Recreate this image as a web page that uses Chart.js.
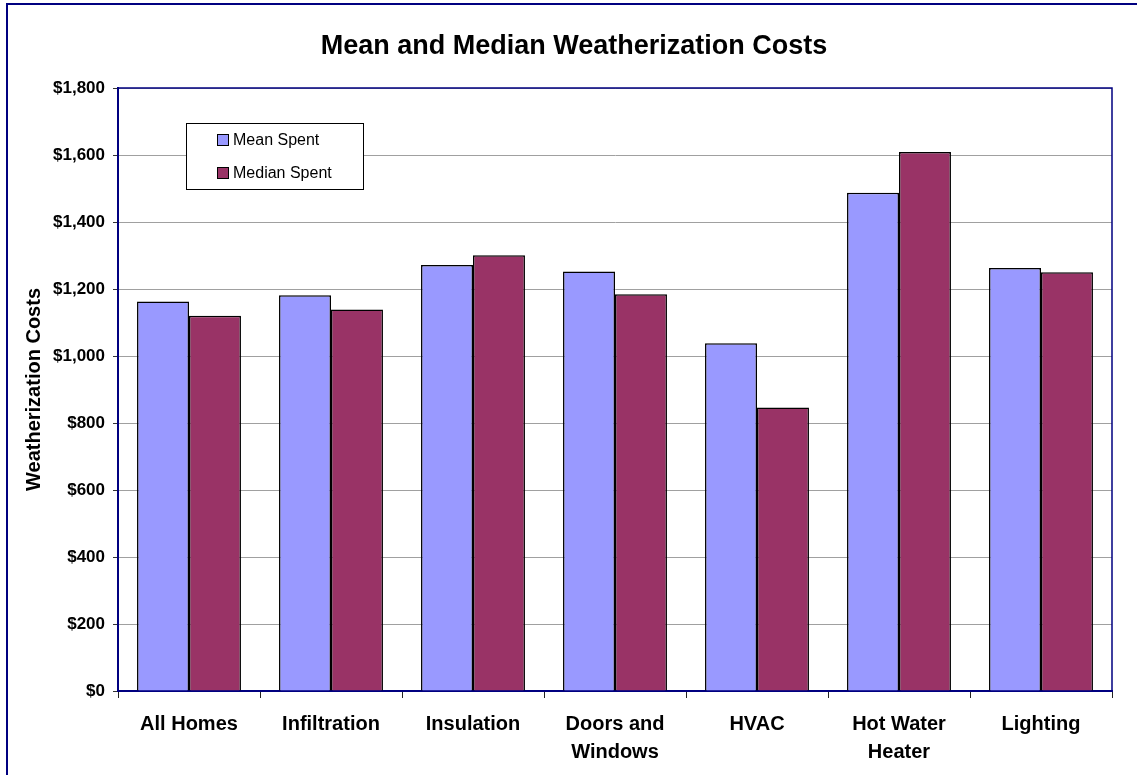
<!DOCTYPE html>
<html>
<head>
<meta charset="utf-8">
<title>Mean and Median Weatherization Costs</title>
<script src="https://cdn.jsdelivr.net/npm/chart.js@4.4.1/dist/chart.umd.min.js"></script>
<style>
  html, body { margin: 0; padding: 0; background: #fff; overflow: hidden; }
  #wrap { position: relative; width: 1137px; height: 775px; }
  #frame { position: absolute; left: 6px; top: 3px; width: 1200px; height: 900px; border: 2px solid #000080; box-sizing: border-box; }
  canvas { position: absolute; left: 0; top: 0; }
</style>
</head>
<body>
<div id="wrap">
  <div id="frame"></div>
  <canvas id="grafico" width="1137" height="775"></canvas>
</div>
<script>
// dados
const categorias = ['All Homes', 'Infiltration', 'Insulation', ['Doors and', 'Windows'], 'HVAC', ['Hot Water', 'Heater'], 'Lighting'];
const mediaGasta = [1163, 1181, 1272, 1252, 1038, 1487, 1263];
const medianaGasta = [1120, 1139, 1301, 1184, 846, 1609, 1250];
const nomesSeries = ['Mean Spent', 'Median Spent'];
const coresSeries = ['#9999ff', '#993366'];
const eixoY = { min: 0, max: 1800, passo: 200 };

const fonte = "'Liberation Sans', Arial, sans-serif";

// borda do plot + legenda desenhada dentro da área
const extras = {
    id: 'extras',
    afterLayout(chart) {
        // centraliza o título na largura toda, como no original
        const t = chart.titleBlock;
        if (t) { t.left = 11; t.right = 1137; }
    },
    afterDatasetsDraw(chart) {
        const { ctx, chartArea: a } = chart;
        ctx.save();
        ctx.strokeStyle = '#000080';
        ctx.lineWidth = 1.5;
        ctx.beginPath();
        ctx.moveTo(a.left, a.top);
        ctx.lineTo(a.right, a.top);
        ctx.lineTo(a.right, a.bottom);
        ctx.stroke();

        // caixa da legenda
        const x = 186, y = 123, w = 177, h = 66;
        ctx.fillStyle = '#fff';
        ctx.fillRect(x, y, w, h);
        ctx.strokeStyle = '#000';
        ctx.lineWidth = 1;
        ctx.strokeRect(x + 0.5, y + 0.5, w, h);
        ctx.font = '16px ' + fonte;
        ctx.textBaseline = 'middle';
        chart.data.datasets.forEach((ds, i) => {
            const cy = 140 + i * 33;
            ctx.fillStyle = ds.backgroundColor;
            ctx.fillRect(217, cy - 6, 12, 12);
            ctx.strokeRect(217.5, cy - 5.5, 11, 11);
            ctx.fillStyle = '#000';
            ctx.fillText(ds.label, 233, cy + 1);
        });
        ctx.restore();
    }
};

const ctx = document.getElementById('grafico').getContext('2d');
new Chart(ctx, {
    type: 'bar',
    data: {
        labels: categorias,
        datasets: [
            { label: nomesSeries[0], data: mediaGasta, backgroundColor: coresSeries[0], borderColor: '#000', borderWidth: 1.5 },
            { label: nomesSeries[1], data: medianaGasta, backgroundColor: coresSeries[1], borderColor: '#000', borderWidth: 1.5 }
        ]
    },
    options: {
        responsive: false,
        devicePixelRatio: 1,
        animation: false,
        layout: { padding: { left: 0, right: 25, top: 0, bottom: 0 } },
        datasets: { bar: { categoryPercentage: 0.732, barPercentage: 1.0 } },
        plugins: {
            legend: { display: false },
            tooltip: { enabled: false },
            title: {
                display: true,
                text: 'Mean and Median Weatherization Costs',
                color: '#000',
                font: { family: fonte, size: 27, weight: 'bold' },
                padding: { top: 30, bottom: 25.6 }
            }
        },
        scales: {
            x: {
                grid: { display: true, drawOnChartArea: false, drawTicks: true, tickLength: 7, tickColor: '#222', offset: true },
                border: { display: true, color: '#000080', width: 2 },
                ticks: { color: '#000', font: { family: fonte, size: 20, weight: 'bold', lineHeight: 1.4 }, padding: 12, maxRotation: 0, autoSkip: false },
                afterFit(s) { s.height = 84; }
            },
            y: {
                min: eixoY.min,
                max: eixoY.max,
                grid: { color: '#a0a0a0', lineWidth: 1, tickLength: 5, tickColor: '#333' },
                border: { display: true, color: '#000080', width: 2 },
                ticks: {
                    stepSize: eixoY.passo,
                    color: '#000',
                    padding: 8,
                    font: { family: fonte, size: 17, weight: 'bold' },
                    callback: v => '$' + v.toLocaleString('en-US')
                },
                title: {
                    display: true,
                    text: 'Weatherization Costs',
                    color: '#000',
                    font: { family: fonte, size: 20, weight: 'bold' },
                    padding: { top: 22, bottom: 0 }
                },
                afterFit(s) { s.width = 118; }
            }
        }
    },
    plugins: [extras]
});
</script>
</body>
</html>
